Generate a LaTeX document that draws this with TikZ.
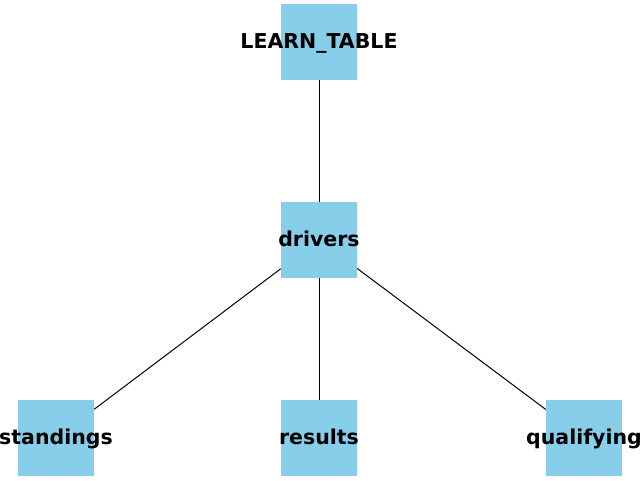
\documentclass[tikz,border=0pt]{standalone}
\usepackage{fontspec}
\setmainfont{DejaVu Sans}
\definecolor{skyblue}{HTML}{87CEEB}
\newcommand{\tblbox}[1]{\makebox[0pt][c]{#1}}
\begin{document}
\begin{tikzpicture}[x=1pt,y=-1pt,
  tbl/.style={fill=skyblue,draw=none,minimum width=76pt,minimum height=76pt,inner sep=0pt,
    text height=16pt,text depth=3pt,
    font=\fontsize{20.5}{24}\selectfont\bfseries,text=black},
  edge/.style={draw=black,line width=1pt}]
\useasboundingbox (0,0) rectangle (640,480);
\node[tbl] (learn) at (319,42) {\tblbox{LEARN\_TABLE}};
\node[tbl] (drivers) at (319,240) {\tblbox{drivers}};
\node[tbl] (standings) at (56,438) {\tblbox{standings}};
\node[tbl] (results) at (319,438) {\tblbox{results}};
\node[tbl] (qualifying) at (584,438) {\tblbox{qualifying}};
\draw[edge] (learn) -- (drivers);
\draw[edge] (drivers) -- (standings);
\draw[edge] (drivers) -- (results);
\draw[edge] (drivers) -- (qualifying);
\end{tikzpicture}
\end{document}
